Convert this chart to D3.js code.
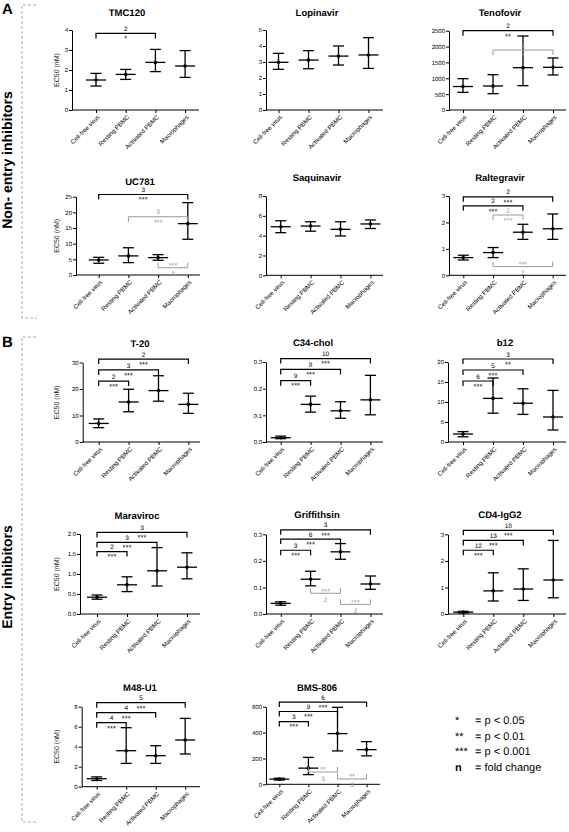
<!DOCTYPE html>
<html><head><meta charset="utf-8">
<script src="https://cdn.jsdelivr.net/npm/d3@7"></script>
<style>
html,body{margin:0;padding:0;background:#fff;}
svg{display:block;font-family:"Liberation Sans",Arial,Helvetica,sans-serif;opacity:0.999;}
svg text{text-rendering:geometricPrecision;}
</style></head><body>
<svg id="chart" width="569" height="832"></svg>
<script>
// ---------- DATA ----------
const categories = ["Cell-free virus", "Resting PBMC", "Activated PBMC", "Macrophages"];
const drugNames = ["TMC120", "Lopinavir", "Tenofovir", "UC781", "Saquinavir", "Raltegravir",
  "T-20", "C34-chol", "b12", "Maraviroc", "Griffithsin", "CD4-IgG2", "M48-U1", "BMS-806"];
const meanEC50 = [
  [1.5, 1.78, 2.38, 2.2],
  [2.98, 3.12, 3.37, 3.44],
  [740, 757, 1335, 1345],
  [4.8, 6.1, 5.55, 16.4],
  [4.9, 4.97, 4.64, 5.18],
  [0.67, 0.86, 1.63, 1.76],
  [7.0, 15.1, 19.4, 14.2],
  [0.016, 0.141, 0.117, 0.158],
  [2.0, 10.9, 9.7, 6.25],
  [0.42, 0.73, 1.08, 1.17],
  [0.040, 0.131, 0.234, 0.113],
  [0.07, 0.87, 0.94, 1.28],
  [0.8, 3.6, 3.1, 4.67],
  [40, 125, 392, 268]
];
const lowEC50 = [
  [1.2, 1.53, 1.92, 1.63],
  [2.54, 2.58, 2.81, 2.6],
  [557, 515, 767, 1104],
  [3.75, 3.95, 4.7, 11.4],
  [4.3, 4.45, 3.97, 4.72],
  [0.58, 0.67, 1.36, 1.36],
  [5.4, 11.4, 15.4, 10.8],
  [0.0125, 0.112, 0.089, 0.102],
  [1.3, 7.2, 6.9, 3.0],
  [0.37, 0.56, 0.70, 0.88],
  [0.033, 0.106, 0.206, 0.093],
  [0.04, 0.49, 0.51, 0.61],
  [0.62, 2.33, 2.33, 3.27],
  [33, 75, 258, 220]
];
const highEC50 = [
  [1.83, 2.03, 3.03, 2.97],
  [3.54, 3.71, 4.0, 4.52],
  [988, 1114, 2333, 1640],
  [5.64, 8.7, 6.5, 23.1],
  [5.5, 5.4, 5.4, 5.58],
  [0.76, 1.05, 1.93, 2.32],
  [8.7, 19.9, 25.0, 18.4],
  [0.022, 0.172, 0.151, 0.25],
  [2.6, 16.0, 13.3, 12.9],
  [0.475, 0.93, 1.66, 1.53],
  [0.046, 0.161, 0.265, 0.143],
  [0.1, 1.55, 1.70, 2.77],
  [0.98, 5.9, 4.1, 6.83],
  [47, 208, 595, 330]
];
const yTickValues = [
  [0, 1, 2, 3, 4], [0, 1, 2, 3, 4, 5], [0, 500, 1000, 1500, 2000, 2500],
  [0, 5, 10, 15, 20, 25], [0, 2, 4, 6, 8], [0, 1, 2, 3],
  [0, 10, 20, 30], [0, 0.1, 0.2, 0.3], [0, 5, 10, 15, 20],
  [0, 0.5, 1.0, 1.5, 2.0], [0, 0.1, 0.2, 0.3], [0, 1, 2, 3],
  [0, 2, 4, 6, 8], [0, 200, 400, 600]
];
const tickDecimals = [0, 0, 0, 0, 0, 0, 0, 1, 0, 1, 1, 0, 0, 0];
// [panel, fromCat, toCat, level, fold change, stars, grey?, inverted?]
const sigBrackets = [
  [0, 0, 2, 3.83, "2", "*", 0, 0],
  [2, 0, 3, 2500, "2", "**", 0, 0],
  [2, 1, 3, 1890, "2", "*", 1, 0],
  [3, 0, 3, 25.7, "3", "***", 0, 0],
  [3, 1, 3, 18.6, "3", "***", 1, 0],
  [3, 2, 3, 2.3, "3", "***", 1, 1],
  [5, 0, 3, 2.97, "2", "***", 0, 0],
  [5, 0, 2, 2.63, "2", "***", 0, 0],
  [5, 1, 2, 2.28, "2", "***", 1, 0],
  [5, 1, 3, 0.33, "2", "***", 1, 1],
  [6, 0, 3, 31.3, "2", "***", 0, 0],
  [6, 0, 2, 27.2, "3", "***", 0, 0],
  [6, 0, 1, 23.0, "2", "***", 0, 0],
  [7, 0, 3, 0.313, "10", "***", 0, 0],
  [7, 0, 2, 0.272, "8", "***", 0, 0],
  [7, 0, 1, 0.230, "9", "***", 0, 0],
  [8, 0, 3, 20.75, "3", "**", 0, 0],
  [8, 0, 2, 18.0, "5", "***", 0, 0],
  [8, 0, 1, 15.25, "6", "***", 0, 0],
  [9, 0, 3, 2.04, "3", "***", 0, 0],
  [9, 0, 2, 1.79, "3", "***", 0, 0],
  [9, 0, 1, 1.56, "2", "***", 0, 0],
  [10, 0, 3, 0.317, "3", "***", 0, 0],
  [10, 0, 2, 0.282, "6", "***", 0, 0],
  [10, 0, 1, 0.240, "3", "***", 0, 0],
  [10, 1, 2, 0.078, "2", "***", 1, 1],
  [10, 2, 3, 0.036, "2", "***", 1, 1],
  [11, 0, 3, 3.15, "18", "***", 0, 0],
  [11, 0, 2, 2.77, "13", "***", 0, 0],
  [11, 0, 1, 2.40, "12", "***", 0, 0],
  [12, 0, 3, 8.4, "5", "***", 0, 0],
  [12, 0, 2, 7.4, "4", "***", 0, 0],
  [12, 0, 1, 6.4, "4", "***", 0, 0],
  [13, 0, 3, 636, "6", "***", 0, 0],
  [13, 0, 2, 563, "9", "***", 0, 0],
  [13, 0, 1, 485, "3", "***", 0, 0],
  [13, 1, 2, 95, "3", "**", 1, 1],
  [13, 2, 3, 41, "3", "**", 1, 1]
];
const legendSymbols = ["*", "**", "***", "n"];
const legendTexts = ["= p < 0.05", "= p < 0.01", "= p < 0.001", "= fold change"];
const sectionLabels = ["A", "B"];
const sectionTitles = ["Non- entry inhibitors", "Entry inhibitors"];
const yAxisTitle = "EC50 (nM)";

// ---------- LAYOUT (pixels) ----------
const panelLayout = [
  {x0: 72, xEnd: 199, yBot: 110, yTop: 30, cat0: 96, step: 29.7, tx: 127, ty: 16, ylab: 1},
  {x0: 266, xEnd: 383, yBot: 110, yTop: 30, cat0: 278.5, step: 30, tx: 317, ty: 16, ylab: 0},
  {x0: 449, xEnd: 566, yBot: 110, yTop: 30.7, cat0: 463, step: 30, tx: 500, ty: 16, ylab: 0},
  {x0: 76, xEnd: 200, yBot: 275, yTop: 196.7, cat0: 98.7, step: 29.7, tx: 140, ty: 185, ylab: 1},
  {x0: 266, xEnd: 383, yBot: 275.3, yTop: 196, cat0: 280.7, step: 29.9, tx: 317, ty: 181, ylab: 0},
  {x0: 449, xEnd: 566, yBot: 275.3, yTop: 196, cat0: 463.3, step: 29.8, tx: 500, ty: 181, ylab: 0},
  {x0: 82.7, xEnd: 200, yBot: 442, yTop: 362.5, cat0: 98.7, step: 29.9, tx: 140, ty: 347, ylab: 1},
  {x0: 266, xEnd: 383, yBot: 442, yTop: 362, cat0: 280.7, step: 29.9, tx: 313, ty: 346, ylab: 0},
  {x0: 448, xEnd: 566, yBot: 442, yTop: 362, cat0: 463, step: 30, tx: 505, ty: 346, ylab: 0},
  {x0: 80, xEnd: 200, yBot: 614, yTop: 534, cat0: 97, step: 30, tx: 137, ty: 519, ylab: 1},
  {x0: 266, xEnd: 383, yBot: 614, yTop: 534.3, cat0: 280.7, step: 29.9, tx: 317, ty: 518, ylab: 0},
  {x0: 448, xEnd: 566, yBot: 614, yTop: 534.3, cat0: 463.3, step: 30, tx: 500, ty: 518, ylab: 0},
  {x0: 81.7, xEnd: 200, yBot: 786.7, yTop: 706.7, cat0: 96.7, step: 29.5, tx: 140, ty: 691, ylab: 1},
  {x0: 266, xEnd: 380, yBot: 784.3, yTop: 706.7, cat0: 279.3, step: 29.1, tx: 317, ty: 691, ylab: 0}
];
const INK = "#000", GREY = "#999";

const svg = d3.select("#chart");

// ---------- section frames & labels ----------
const frames = [{x: 22, y1: 5, y2: 318, ly: 14, ty: 160}, {x: 22, y1: 337, y2: 822, ly: 347, ty: 577}];
frames.forEach((f, k) => {
  const fg = svg.append("g").attr("stroke", "#9a9a9a").attr("stroke-width", 0.8)
    .attr("stroke-dasharray", "3,2").attr("fill", "none");
  fg.append("path").attr("d", `M${f.x + 14},${f.y1}H${f.x}V${f.y2}H${f.x + 15}`);
  svg.append("text").attr("x", 2).attr("y", f.ly).attr("font-size", 15).attr("font-weight", "bold")
    .attr("fill", INK).text(sectionLabels[k]);
  svg.append("text").attr("transform", `translate(12,${f.ty}) rotate(-90)`).attr("text-anchor", "middle")
    .attr("font-size", 14).attr("font-weight", "bold").attr("fill", INK).text(sectionTitles[k]);
});

// ---------- panels ----------
panelLayout.forEach((L, i) => {
  const g = svg.append("g");
  const ticks = yTickValues[i];
  const y = d3.scaleLinear().domain([0, ticks[ticks.length - 1]]).range([L.yBot, L.yTop]);
  const x = d3.scalePoint().domain(categories).range([L.cat0, L.cat0 + 3 * L.step]);
  const fmt = d3.format(tickDecimals[i] ? ".1f" : "d");

  // title
  g.append("text").attr("x", L.tx).attr("y", L.ty).attr("text-anchor", "middle")
    .attr("font-size", 9.5).attr("font-weight", "bold").attr("fill", INK).text(drugNames[i]);

  // y axis
  const ya = g.append("g").attr("transform", `translate(${L.x0},0)`)
    .call(d3.axisLeft(y).tickValues(ticks).tickSize(3).tickSizeOuter(0).tickPadding(1).tickFormat(fmt));
  ya.selectAll("path,line").attr("stroke", INK).attr("stroke-width", 1);
  ya.selectAll("text").attr("font-size", 6).attr("fill", INK).attr("font-family", null);

  // x axis
  const xa = g.append("g").attr("transform", `translate(0,${L.yBot})`)
    .call(d3.axisBottom(x).tickSize(3).tickSizeOuter(0));
  xa.select(".domain").remove();
  xa.selectAll("line").attr("stroke", INK).attr("stroke-width", 1);
  xa.selectAll("text").attr("x", null).attr("y", null).attr("dy", "0.35em")
    .attr("transform", "translate(2,6) rotate(-45)").attr("text-anchor", "end")
    .attr("font-size", 6.2).attr("fill", INK).attr("font-family", null);
  g.append("line").attr("x1", L.x0).attr("x2", L.xEnd).attr("y1", L.yBot).attr("y2", L.yBot)
    .attr("stroke", INK).attr("stroke-width", 1);

  // y title
  if (L.ylab) {
    g.append("text").attr("transform", `translate(59,${(L.yBot + L.yTop) / 2}) rotate(-90)`)
      .attr("text-anchor", "middle").attr("font-size", 7).attr("fill", "#222").text(yAxisTitle);
  }

  // error bars
  categories.forEach((c, j) => {
    const cx = x(c), m = meanEC50[i][j], lo = lowEC50[i][j], hi = highEC50[i][j];
    const eb = g.append("g").attr("stroke", INK).attr("stroke-width", 1.3).attr("fill", "none");
    eb.append("line").attr("x1", cx).attr("x2", cx).attr("y1", y(lo)).attr("y2", y(hi));
    eb.append("line").attr("x1", cx - 5.5).attr("x2", cx + 5.5).attr("y1", y(lo)).attr("y2", y(lo));
    eb.append("line").attr("x1", cx - 5.5).attr("x2", cx + 5.5).attr("y1", y(hi)).attr("y2", y(hi));
    eb.append("line").attr("x1", cx - 10).attr("x2", cx + 10).attr("y1", y(m)).attr("y2", y(m));
    g.append("circle").attr("cx", cx).attr("cy", y(m)).attr("r", 1.8).attr("fill", INK);
  });

  // significance brackets
  sigBrackets.filter(b => b[0] === i).forEach(b => {
    const [, a, z, lvl, n, stars, grey, inv] = b;
    const col = grey ? GREY : INK;
    const x1 = x(categories[a]), x2 = x(categories[z]), yy = y(lvl);
    const d = inv ? -5 : 5;
    g.append("path").attr("d", `M${x1},${yy + d}V${yy}H${x2}V${yy + d}`)
      .attr("fill", "none").attr("stroke", col).attr("stroke-width", grey ? 1 : 1.2);
    const cxm = (x1 + x2) / 2;
    g.append("text").attr("x", cxm).attr("y", inv ? yy + 8.5 : yy - 2.3).attr("text-anchor", "middle")
      .attr("font-size", 6.5).attr("fill", col).text(n);
    g.append("text").attr("x", cxm).attr("y", inv ? yy + 0.3 : yy + 7.8).attr("text-anchor", "middle")
      .attr("font-size", 7.5).attr("fill", col).text(stars);
  });
});

// ---------- legend ----------
legendSymbols.forEach((s, k) => {
  const yy = 724 + k * 15.7;
  svg.append("text").attr("x", 455).attr("y", yy).attr("font-size", 11)
    .attr("font-weight", s === "n" ? "bold" : "normal").attr("fill", INK).text(s);
  svg.append("text").attr("x", 475).attr("y", yy).attr("font-size", 11).attr("fill", INK).text(legendTexts[k]);
});
</script>
</body></html>
